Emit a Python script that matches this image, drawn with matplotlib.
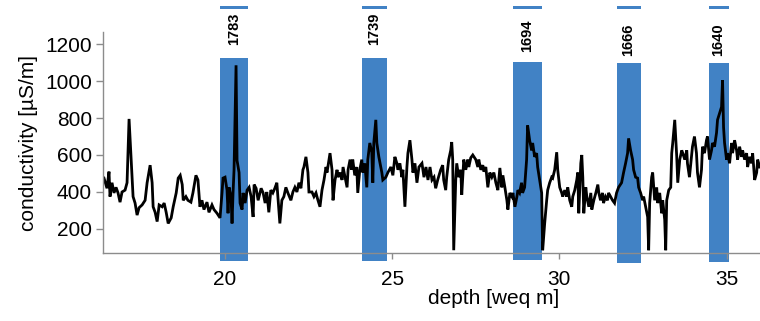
import matplotlib
matplotlib.use("Agg")
import matplotlib.pyplot as plt

plt.rcParams['font.family'] = ['Liberation Sans', 'DejaVu Sans']

# conductivity record vs depth
depth = [16.38, 16.47, 16.53, 16.56, 16.62, 16.68, 16.74, 16.80, 16.86, 16.92,
         17.01, 17.07, 17.13, 17.19, 17.25, 17.31, 17.37, 17.43, 17.52, 17.61,
         17.67, 17.76, 17.82, 17.85, 17.91, 17.97, 18.03, 18.12, 18.18, 18.24,
         18.30, 18.39, 18.45, 18.54, 18.60, 18.66, 18.72, 18.75, 18.83, 18.89,
         18.98, 19.04, 19.13, 19.19, 19.25, 19.31, 19.37, 19.46, 19.52, 19.61,
         19.67, 19.76, 19.85, 19.91, 19.94, 20.00, 20.06, 20.09, 20.12, 20.18,
         20.21, 20.24, 20.27, 20.33, 20.36, 20.42, 20.45, 20.51, 20.54, 20.60,
         20.66, 20.72, 20.78, 20.84, 20.87, 20.93, 20.99, 21.08, 21.14, 21.20,
         21.25, 21.31, 21.37, 21.43, 21.49, 21.55, 21.58, 21.64, 21.70, 21.76,
         21.82, 21.88, 21.97, 22.03, 22.09, 22.15, 22.21, 22.27, 22.33, 22.36,
         22.42, 22.48, 22.51, 22.60, 22.66, 22.72, 22.78, 22.84, 22.90, 22.96,
         23.02, 23.05, 23.11, 23.14, 23.20, 23.23, 23.29, 23.35, 23.38, 23.44,
         23.50, 23.53, 23.59, 23.65, 23.68, 23.74, 23.79, 23.82, 23.88, 23.94,
         23.97, 24.03, 24.09, 24.12, 24.18, 24.24, 24.27, 24.33, 24.39, 24.42,
         24.45, 24.51, 24.54, 24.60, 24.69, 24.72, 24.81, 24.87, 24.96, 25.02,
         25.08, 25.14, 25.17, 25.23, 25.29, 25.32, 25.38, 25.44, 25.47, 25.53,
         25.59, 25.62, 25.68, 25.74, 25.80, 25.89, 25.95, 26.01, 26.07, 26.13,
         26.19, 26.25, 26.30, 26.36, 26.45, 26.51, 26.54, 26.60, 26.63, 26.69,
         26.75, 26.78, 26.81, 26.84, 26.90, 26.93, 26.99, 27.05, 27.08, 27.14,
         27.20, 27.26, 27.29, 27.35, 27.41, 27.50, 27.56, 27.59, 27.65, 27.71,
         27.74, 27.80, 27.86, 27.92, 27.98, 28.04, 28.10, 28.16, 28.22, 28.28,
         28.31, 28.37, 28.43, 28.46, 28.52, 28.58, 28.61, 28.67, 28.73, 28.76,
         28.81, 28.87, 28.90, 28.96, 29.02, 29.05, 29.11, 29.17, 29.20, 29.26,
         29.32, 29.35, 29.41, 29.47, 29.50, 29.56, 29.62, 29.65, 29.71, 29.77,
         29.80, 29.86, 29.92, 29.95, 30.01, 30.07, 30.10, 30.16, 30.22, 30.25,
         30.31, 30.37, 30.40, 30.46, 30.52, 30.55, 30.58, 30.64, 30.67, 30.70,
         30.73, 30.79, 30.82, 30.88, 30.94, 30.97, 31.03, 31.09, 31.15, 31.18,
         31.23, 31.29, 31.32, 31.38, 31.44, 31.47, 31.53, 31.59, 31.65, 31.71,
         31.77, 31.86, 31.92, 31.98, 32.04, 32.07, 32.13, 32.19, 32.22, 32.28,
         32.34, 32.37, 32.43, 32.49, 32.52, 32.58, 32.64, 32.67, 32.70, 32.76,
         32.79, 32.85, 32.91, 32.94, 33.00, 33.06, 33.09, 33.15, 33.18, 33.21,
         33.27, 33.33, 33.36, 33.39, 33.45, 33.51, 33.54, 33.60, 33.66, 33.69,
         33.75, 33.81, 33.83, 33.89, 33.95, 33.98, 34.04, 34.10, 34.13, 34.19,
         34.25, 34.28, 34.34, 34.40, 34.43, 34.49, 34.55, 34.58, 34.64, 34.70,
         34.73, 34.79, 34.85, 34.88, 34.91, 34.94, 35.00, 35.03, 35.09, 35.15,
         35.18, 35.24, 35.30, 35.33, 35.39, 35.45, 35.48, 35.54, 35.60, 35.63,
         35.69, 35.75, 35.78, 35.84, 35.90, 35.93, 35.99]

conductivity = [475, 420, 510, 375, 450, 395, 425, 395, 345, 400,
                410, 450, 795, 590, 375, 340, 275, 315, 330, 355,
                450, 545, 450, 320, 290, 240, 330, 320, 340, 290,
                230, 260, 320, 395, 475, 490, 440, 355, 375, 355,
                345, 395, 490, 465, 320, 355, 305, 345, 290, 330,
                305, 285, 260, 395, 475, 480, 410, 285, 425, 375,
                230, 395, 520, 1085, 570, 505, 340, 305, 395, 340,
                410, 425, 375, 265, 440, 420, 355, 420, 395, 340,
                400, 290, 410, 395, 420, 450, 375, 230, 355, 375,
                425, 395, 355, 400, 425, 400, 450, 420, 520, 535,
                590, 505, 400, 400, 375, 395, 355, 320, 410, 465,
                535, 505, 575, 610, 520, 355, 465, 520, 480, 505,
                465, 535, 480, 425, 520, 575, 520, 575, 490, 535,
                395, 520, 575, 505, 555, 425, 575, 665, 615, 450,
                665, 790, 665, 590, 505, 465, 480, 505, 535, 490,
                590, 555, 520, 555, 480, 520, 320, 535, 610, 680,
                575, 505, 555, 450, 535, 555, 480, 535, 465, 535,
                465, 480, 420, 465, 520, 545, 465, 410, 480, 575,
                625, 670, 575, 85, 465, 555, 480, 520, 385, 575,
                520, 575, 535, 585, 600, 575, 535, 575, 520, 545,
                510, 535, 425, 505, 480, 505, 450, 410, 530, 425,
                490, 425, 355, 305, 395, 375, 395, 320, 375, 410,
                395, 450, 395, 425, 575, 760, 680, 625, 665, 590,
                610, 535, 465, 395, 85, 230, 355, 410, 450, 480,
                475, 520, 615, 520, 425, 395, 375, 410, 375, 425,
                355, 320, 375, 410, 465, 505, 285, 555, 600, 480,
                285, 425, 375, 320, 395, 305, 355, 395, 440, 395,
                355, 395, 340, 375, 355, 395, 375, 355, 340, 395,
                425, 450, 505, 555, 610, 690, 625, 575, 520, 480,
                475, 425, 395, 355, 375, 320, 265, 85, 340, 480,
                505, 355, 425, 340, 395, 285, 355, 250, 85, 355,
                410, 425, 610, 665, 790, 590, 450, 575, 625, 610,
                575, 625, 555, 480, 590, 645, 700, 610, 505, 425,
                520, 645, 610, 680, 700, 575, 625, 665, 645, 720,
                790, 825, 860, 1005, 750, 665, 575, 610, 555, 665,
                610, 680, 625, 575, 645, 590, 625, 575, 610, 535,
                590, 555, 610, 465, 505, 575, 535]

# highlighted intervals (depth range) and their year labels
band_years = ["1783", "1739", "1694", "1666", "1640"]
band_start = [19.85, 24.09, 28.61, 31.71, 34.46]
band_end = [20.69, 24.84, 29.47, 32.43, 35.06]
band_top = [1124, 1124, 1103, 1097, 1097]
band_bottom = [27, 27, 32, 16, 21]
label_y = [1284, 1281, 1243, 1224, 1224]

blue = "#4182c5"
grey = "#8c8c8c"

fig = plt.figure(figsize=(7.6, 3.21), dpi=100)
ax = fig.add_axes([0.1355, 0.2118, 0.8645, 0.6885])

for x0, x1, top, bot, yr, ly in zip(band_start, band_end, band_top,
                                     band_bottom, band_years, label_y):
    ax.bar(x0, top - bot, width=x1 - x0, bottom=bot, align='edge',
           color=blue, linewidth=0, clip_on=False, zorder=1)
    # thin cap bar above the label
    ax.bar(x0, 16, width=x1 - x0, bottom=1389, align='edge',
           color=blue, linewidth=0, clip_on=False, zorder=1)
    ax.text((x0 + x1) / 2, ly, yr, rotation=90, ha='center', va='center',
            fontsize=10.5, fontweight='bold', clip_on=False)

ax.plot(depth, conductivity, color='black', lw=2.0, zorder=2,
        solid_joinstyle='miter')

ax.set_xlim(16.35, 36.0)
ax.set_ylim(70, 1265)
ax.set_xticks([20, 25, 30, 35])
ax.set_yticks([200, 400, 600, 800, 1000, 1200])

for side in ['top', 'right']:
    ax.spines[side].set_visible(False)
for side in ['left', 'bottom']:
    ax.spines[side].set_color(grey)
    ax.spines[side].set_linewidth(1.0)
    ax.spines[side].set_zorder(3)

ax.tick_params(axis='y', direction='out', length=5, width=1, color=grey,
               labelsize=15, pad=3)
ax.tick_params(axis='x', direction='out', length=4, width=1, color=grey,
               labelsize=15, pad=8)

ax.set_ylabel("conductivity [µS/m]", fontsize=15)
ax.yaxis.set_label_coords(-0.099, 0.5)
ax.set_xlabel("depth [weq m]", fontsize=15)
ax.xaxis.set_label_coords(0.594, -0.165)

fig.savefig("out.png", dpi=100)
